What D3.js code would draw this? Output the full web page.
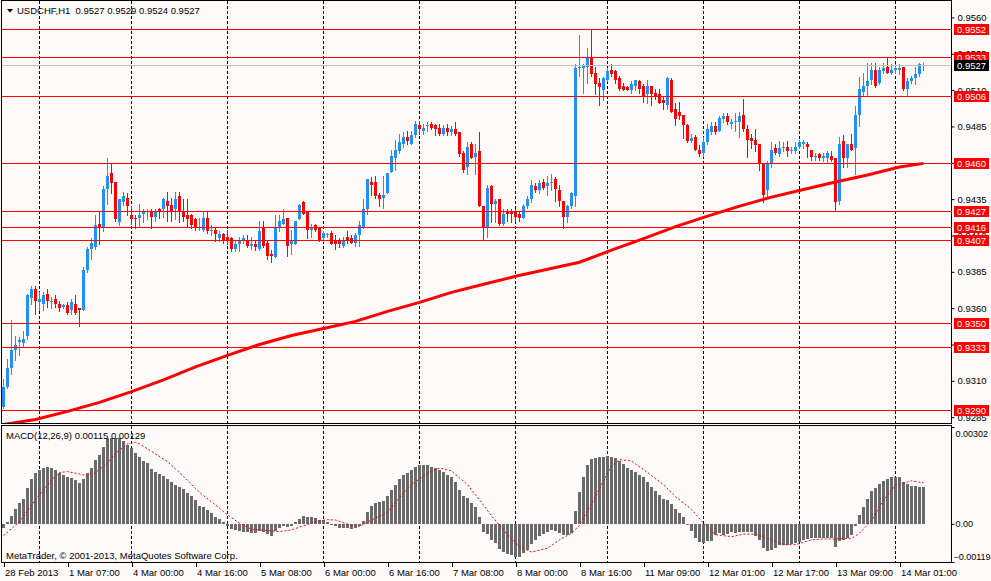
<!DOCTYPE html>
<html>
<head>
<meta charset="utf-8">
<script src="https://cdn.jsdelivr.net/npm/d3@7"></script>
<style>
  html, body { margin: 0; padding: 0; background: #fffafa; }
  svg { display: block; font-family: "Liberation Sans", Arial, sans-serif; font-size: 9.5px; }
  .axis text { font-family: "Liberation Sans", Arial, sans-serif; font-size: 9.5px; fill: #000; }
  .axis line { stroke: #000; }
</style>
</head>
<body>
<svg id="chart" width="991" height="581"></svg>
<script>
// ---- data (USDCHF, H1) ----
var symbolTitle = 'USDCHF,H1  0.9527 0.9529 0.9524 0.9527';
var macdTitle = 'MACD(12,26,9) 0.00115 0.00129';
var copyright = 'MetaTrader, \u00a9 2001-2013, MetaQuotes Software Corp.';

var opens = [
  .9292,.9306,.9319,.9331,.9337,.9336,.9341,.9367,.9373,.9364,
  .9363,.9370,.9364,.9366,.9363,.9361,.9362,.9359,.9363,.9360,
  .9359,.9386,.9401,.9402,.9418,.9416,.9442,.9453,.9447,.9419,
  .9433,.9436,.9424,.9422,.9422,.9425,.9426,.9426,.9423,.9428,
  .9428,.9434,.9431,.9428,.9437,.9427,.9424,.9424,.9421,.9415,
  .9414,.9422,.9413,.9414,.9408,.9411,.9409,.9408,.9401,.9404,
  .9406,.9407,.9403,.9404,.9401,.9415,.9405,.9397,.9395,.9415,
  .9418,.9422,.9404,.9404,.9421,.9433,.9426,.9414,.9417,.9415,
  .9408,.9410,.9412,.9406,.9406,.9403,.9409,.9408,.9405,.9410,
  .9416,.9428,.9447,.9447,.9438,.9436,.9439,.9454,.9463,.9468,
  .9473,.9478,.9473,.9479,.9486,.9482,.9485,.9487,.9486,.9484,
  .9480,.9484,.9481,.9483,.9481,.9467,.9457,.9473,.9464,.9468,
  .9430,.9416,.9444,.9432,.9435,.9418,.9426,.9426,.9426,.9425,
  .9422,.9430,.9435,.9444,.9441,.9447,.9444,.9446,.9449,.9441,
  .9434,.9423,.9430,.9437,.9525,.9525,.9526,.9533,.9522,.9515,
  .9510,.9517,.9524,.9523,.9518,.9513,.9512,.9510,.9513,.9516,
  .9513,.9507,.9513,.9508,.9507,.9503,.9500,.9517,.9497,.9495,
  .9493,.9486,.9475,.9478,.9469,.9467,.9474,.9481,.9485,.9482,
  .9490,.9492,.9487,.9488,.9488,.9493,.9483,.9477,.9476,.9473,
  .9460,.9441,.9460,.9470,.9466,.9470,.9471,.9468,.9468,.9471,
  .9473,.9473,.9469,.9464,.9466,.9463,.9463,.9465,.9463,.9434,
  .9475,.9463,.9473,.9470,.9493,.9509,.9513,.9517,.9524,.9515,
  .9523,.9526,.9522,.9524,.9524,.9526,.9511,.9516,.9518,.9521,
  .9527
];
var highs = [
  .9311,.9325,.9352,.9341,.9340,.9344,.9370,.9375,.9375,.9371,
  .9371,.9373,.9368,.9369,.9365,.9363,.9364,.9366,.9369,.9360,
  .9388,.9402,.9408,.9424,.9426,.9444,.9463,.9460,.9447,.9435,
  .9440,.9439,.9430,.9424,.9432,.9428,.9428,.9428,.9428,.9429,
  .9436,.9440,.9436,.9440,.9440,.9435,.9435,.9425,.9422,.9422,
  .9427,.9426,.9417,.9416,.9413,.9412,.9414,.9409,.9406,.9409,
  .9410,.9410,.9409,.9406,.9420,.9420,.9407,.9400,.9424,.9424,
  .9428,.9422,.9414,.9420,.9432,.9434,.9426,.9418,.9418,.9415,
  .9413,.9412,.9413,.9410,.9408,.9409,.9413,.9410,.9412,.9420,
  .9435,.9449,.9450,.9451,.9439,.9451,.9453,.9469,.9476,.9480,
  .9481,.9482,.9482,.9489,.9489,.9487,.9488,.9488,.9487,.9487,
  .9486,.9487,.9485,.9488,.9481,.9468,.9474,.9474,.9473,.9481,
  .9430,.9445,.9445,.9435,.9435,.9428,.9428,.9428,.9428,.9427,
  .9432,.9437,.9448,.9446,.9448,.9449,.9451,.9452,.9450,.9445,
  .9434,.9431,.9440,.9528,.9548,.9528,.9539,.9552,.9526,.9518,
  .9519,.9525,.9528,.9524,.9520,.9515,.9513,.9516,.9517,.9517,
  .9514,.9517,.9513,.9511,.9511,.9505,.9519,.9518,.9501,.9502,
  .9493,.9487,.9480,.9479,.9472,.9478,.9487,.9488,.9488,.9492,
  .9494,.9494,.9490,.9494,.9495,.9504,.9486,.9480,.9483,.9473,
  .9460,.9461,.9474,.9473,.9475,.9474,.9475,.9471,.9474,.9476,
  .9476,.9474,.9469,.9467,.9467,.9467,.9468,.9468,.9463,.9478,
  .9479,.9473,.9480,.9499,.9519,.9522,.9529,.9529,.9529,.9526,
  .9529,.9533,.9528,.9528,.9528,.9526,.9518,.9520,.9526,.9529,
  .9529
];
var lows = [
  .9291,.9305,.9315,.9324,.9328,.9334,.9339,.9363,.9356,.9359,
  .9359,.9361,.9360,.9361,.9358,.9360,.9356,.9356,.9356,.9348,
  .9359,.9385,.9394,.9401,.9404,.9413,.9432,.9439,.9420,.9417,
  .9431,.9424,.9418,.9415,.9416,.9419,.9421,.9415,.9420,.9422,
  .9423,.9420,.9420,.9421,.9419,.9420,.9416,.9415,.9414,.9414,
  .9413,.9412,.9410,.9406,.9406,.9405,.9404,.9399,.9399,.9399,
  .9405,.9402,.9401,.9400,.9400,.9402,.9394,.9392,.9395,.9413,
  .9418,.9396,.9397,.9404,.9421,.9425,.9408,.9409,.9413,.9406,
  .9406,.9409,.9404,.9401,.9402,.9402,.9405,.9405,.9403,.9403,
  .9415,.9425,.9438,.9436,.9430,.9429,.9439,.9454,.9455,.9467,
  .9471,.9473,.9473,.9478,.9480,.9480,.9482,.9483,.9479,.9479,
  .9479,.9479,.9479,.9479,.9465,.9454,.9452,.9463,.9452,.9430,
  .9407,.9409,.9419,.9419,.9417,.9417,.9420,.9419,.9420,.9420,
  .9422,.9429,.9433,.9440,.9439,.9442,.9438,.9441,.9434,.9430,
  .9415,.9419,.9429,.9430,.9520,.9508,.9515,.9520,.9507,.9500,
  .9503,.9516,.9520,.9515,.9510,.9510,.9510,.9508,.9510,.9508,
  .9502,.9501,.9500,.9504,.9501,.9497,.9497,.9495,.9486,.9490,
  .9477,.9474,.9474,.9469,.9465,.9465,.9473,.9480,.9480,.9482,
  .9488,.9487,.9484,.9482,.9478,.9482,.9464,.9470,.9468,.9455,
  .9433,.9437,.9457,.9466,.9465,.9468,.9465,.9467,.9467,.9470,
  .9470,.9464,.9462,.9462,.9462,.9461,.9460,.9461,.9427,.9432,
  .9457,.9457,.9469,.9452,.9485,.9506,.9506,.9514,.9512,.9514,
  .9522,.9522,.9521,.9522,.9521,.9510,.9506,.9515,.9514,.9520,
  .9524
];
var closes = [
  .9306,.9319,.9331,.9335,.9338,.9339,.9369,.9373,.9365,.9366,
  .9369,.9365,.9365,.9363,.9360,.9362,.9357,.9364,.9357,.9359,
  .9386,.9401,.9405,.9417,.9415,.9442,.9451,.9446,.9421,.9435,
  .9437,.9430,.9421,.9421,.9424,.9426,.9427,.9423,.9427,.9426,
  .9435,.9430,.9427,.9435,.9426,.9423,.9421,.9417,.9415,.9416,
  .9422,.9413,.9414,.9411,.9411,.9407,.9406,.9401,.9404,.9406,
  .9408,.9403,.9404,.9402,.9413,.9403,.9396,.9396,.9415,.9420,
  .9421,.9403,.9406,.9420,.9431,.9425,.9414,.9416,.9414,.9407,
  .9412,.9411,.9404,.9404,.9404,.9407,.9407,.9405,.9410,.9417,
  .9428,.9449,.9445,.9437,.9435,.9438,.9453,.9465,.9469,.9474,
  .9478,.9475,.9479,.9487,.9483,.9484,.9486,.9484,.9483,.9480,
  .9484,.9481,.9483,.9480,.9466,.9455,.9471,.9463,.9467,.9430,
  .9415,.9443,.9432,.9434,.9418,.9425,.9425,.9425,.9423,.9422,
  .9430,.9435,.9445,.9441,.9446,.9443,.9446,.9447,.9442,.9434,
  .9423,.9430,.9439,.9525,.9526,.9527,.9533,.9521,.9514,.9512,
  .9518,.9523,.9521,.9517,.9511,.9510,.9510,.9514,.9517,.9511,
  .9506,.9513,.9507,.9506,.9501,.9501,.9518,.9495,.9490,.9492,
  .9486,.9475,.9477,.9469,.9466,.9474,.9483,.9485,.9481,.9491,
  .9492,.9488,.9488,.9489,.9492,.9483,.9476,.9475,.9472,.9460,
  .9438,.9460,.9469,.9467,.9470,.9471,.9468,.9469,.9471,.9474,
  .9474,.9471,.9464,.9465,.9463,.9465,.9467,.9462,.9433,.9473,
  .9463,.9473,.9469,.9493,.9511,.9513,.9516,.9524,.9513,.9524,
  .9525,.9522,.9524,.9525,.9525,.9511,.9516,.9518,.9521,.9528,
  .9527
];

// moving average, read at every 8th bar
var maBars = [0,8,16,24,32,40,48,56,64,72,80,88,96,104,112,120,128,136,144,152,160,168,176,184,192,200,208,216,224,230];
var maValues = [0.9280,0.92834,0.92890,0.92952,0.93026,0.93106,0.93196,0.93275,0.93350,0.93412,
  0.93460,0.93509,0.93578,0.93640,0.93709,0.93764,0.93819,0.93868,0.93916,0.93999,
  0.94078,0.94161,0.94233,0.94302,0.94364,0.94416,0.94468,0.94516,0.94571,0.94596];

// MACD main (histogram), one per bar
var macdMain = [
  -0.00014,0.00007,0.00025,0.00046,0.00065,0.00077,0.00111,0.00139,0.00158,0.00167,
  0.00174,0.00177,0.00174,0.00168,0.00160,0.00153,0.00146,0.00142,0.00137,0.00126,
  0.00139,0.00160,0.00174,0.00199,0.00215,0.00241,0.00267,0.00267,0.00267,0.00267,
  0.00259,0.00247,0.00236,0.00222,0.00207,0.00195,0.00189,0.00170,0.00163,0.00156,
  0.00149,0.00139,0.00132,0.00122,0.00116,0.00108,0.00096,0.00086,0.00075,0.00056,
  0.00052,0.00042,0.00034,0.00021,0.00015,0.00007,-0.00006,-0.00016,-0.00019,-0.00021,
  -0.00027,-0.00027,-0.00029,-0.00029,-0.00021,-0.00027,-0.00031,-0.00039,-0.00021,-0.00014,
  -0.00008,-0.00010,-0.00008,0.00007,0.00015,0.00023,0.00021,0.00021,0.00017,0.00013,
  0.00011,0.00007,-0.00003,-0.00008,-0.00014,-0.00014,-0.00014,-0.00015,-0.00014,-0.00008,
  0.00009,0.00038,0.00057,0.00065,0.00067,0.00072,0.00088,0.00106,0.00122,0.00140,
  0.00153,0.00160,0.00168,0.00178,0.00182,0.00182,0.00182,0.00176,0.00174,0.00168,
  0.00161,0.00153,0.00145,0.00132,0.00106,0.00086,0.00080,0.00065,0.00054,0.00020,
  -0.00024,-0.00032,-0.00050,-0.00060,-0.00078,-0.00088,-0.00095,-0.00098,-0.00102,-0.00102,
  -0.00091,-0.00081,-0.00064,-0.00050,-0.00039,-0.00032,-0.00024,-0.00019,-0.00022,-0.00029,
  -0.00036,-0.00035,-0.00029,0.00041,0.00098,0.00145,0.00182,0.00203,0.00205,0.00207,
  0.00210,0.00213,0.00210,0.00205,0.00197,0.00186,0.00174,0.00168,0.00161,0.00153,
  0.00145,0.00132,0.00115,0.00101,0.00090,0.00078,0.00075,0.00061,0.00046,0.00034,
  0.00020,-0.00003,-0.00022,-0.00043,-0.00056,-0.00060,-0.00053,-0.00053,-0.00035,-0.00029,
  -0.00035,-0.00032,-0.00026,-0.00029,-0.00024,-0.00026,-0.00024,-0.00026,-0.00039,-0.00050,
  -0.00076,-0.00085,-0.00081,-0.00076,-0.00066,-0.00067,-0.00066,-0.00064,-0.00060,-0.00056,
  -0.00050,-0.00046,-0.00045,-0.00045,-0.00043,-0.00043,-0.00043,-0.00045,-0.00071,-0.00053,
  -0.00050,-0.00045,-0.00036,-0.00008,0.00028,0.00054,0.00078,0.00103,0.00113,0.00124,
  0.00134,0.00140,0.00145,0.00145,0.00145,0.00132,0.00124,0.00119,0.00117,0.00116,
  0.00115
];

// MACD signal, read at selected bars
var signalBars = [0,4,8,12,14,16,18,21,23,26,28,31,33,34,37,41,45,49,53,56,59,62,66,69,72,75,78,81,83,86,89,
  92,96,99,102,106,109,112,116,119,122,126,129,132,136,139,142,144,146,148,150,152,154,157,161,165,168,172,175,178,
  182,185,188,192,195,198,202,205,208,212,214,217,220,223,227,229,230];
var signalValues = [-0.00037,0.00007,0.00075,0.00137,0.00160,0.00163,0.00158,0.00150,0.00160,0.00189,0.00220,0.00249,
  0.00254,0.00249,0.00226,0.00194,0.00148,0.00098,0.00059,0.00028,0.00002,-0.00017,-0.00021,-0.00024,-0.00019,-0.00006,
  0.00007,0.00013,0.00012,-0.00001,-0.00008,0.00012,0.00036,0.00082,0.00122,0.00158,0.00174,0.00165,0.00122,0.00075,
  0.00025,-0.00034,-0.00071,-0.00088,-0.00076,-0.00050,-0.00029,-0.00005,0.00041,0.00085,0.00135,0.00180,0.00200,
  0.00196,0.00160,0.00122,0.00085,0.00045,0.00002,-0.00034,-0.00040,-0.00032,-0.00032,-0.00050,-0.00065,-0.00065,
  -0.00050,-0.00047,-0.00047,-0.00045,-0.00029,0.00010,0.00075,0.00120,0.00134,0.00130,0.00129];

// horizontal lines and the current bid
var levels = [0.9552, 0.9533, 0.9506, 0.9460, 0.9427, 0.9416, 0.9407, 0.9350, 0.9333, 0.9290];
var bid = 0.9527;

// axes
var priceRange = [0.9281, 0.9572];
var priceTicks = [0.9560, 0.9535, 0.9510, 0.9485, 0.9460, 0.9435, 0.9410, 0.9385, 0.9360, 0.9335, 0.9310, 0.9285];
var macdRange = [-0.00119, 0.00302];
var macdTicks = [0.00302, 0, -0.00119];
var dayStartBars = [9, 32, 56, 80, 104, 128, 151, 175, 199, 223];
var timeTickBars = [0, 16, 32, 48, 64, 80, 96, 112, 128, 144, 160, 176, 192, 208, 224];
var timeTickLabels = ['28 Feb 2013', '1 Mar 07:00', '4 Mar 00:00', '4 Mar 16:00', '5 Mar 08:00', '6 Mar 00:00',
  '6 Mar 16:00', '7 Mar 08:00', '8 Mar 00:00', '8 Mar 16:00', '11 Mar 09:00', '12 Mar 01:00', '12 Mar 17:00',
  '13 Mar 09:00', '14 Mar 01:00'];

// ---- layout ----
var svg = d3.select('#chart');
var plotLeft = 2, plotRight = 951;
var mainTop = 0, mainBottom = 423;
var macdTop = 426, macdBottom = 562;
var bull = '#1e90ff', bear = '#ff0000';

var x = d3.scaleLinear().domain([0, closes.length - 1]).range([3.5, 3.5 + 4 * (closes.length - 1)]);
var y = d3.scaleLinear().domain(priceRange).range([mainBottom, mainTop]);
var yM = d3.scaleLinear().domain(macdRange).range([macdBottom, macdTop + 1]);

function crisp(v) { return Math.round(v) + 0.5; }

svg.append('rect').attr('width', 991).attr('height', 581).attr('fill', '#fffafa');

var defs = svg.append('defs');
defs.append('clipPath').attr('id', 'clipMain').append('rect')
    .attr('x', plotLeft).attr('y', mainTop).attr('width', plotRight - plotLeft).attr('height', mainBottom - mainTop);
defs.append('clipPath').attr('id', 'clipMacd').append('rect')
    .attr('x', plotLeft).attr('y', macdTop).attr('width', plotRight - plotLeft).attr('height', macdBottom - macdTop);

// day separators through both windows
svg.append('g').attr('class', 'grid')
    .selectAll('line')
    .data(dayStartBars)
    .enter()
    .append('line')
    .attr('x1', d => x(d)).attr('x2', d => x(d))
    .attr('y1', mainTop + 1).attr('y2', macdBottom)
    .attr('stroke', '#000')
    .attr('stroke-dasharray', '3,2')
    .attr('shape-rendering', 'crispEdges');

var main = svg.append('g').attr('clip-path', 'url(#clipMain)');

// candles
var candles = main.append('g').attr('class', 'candles')
    .selectAll('g')
    .data(closes.map((c, i) => ({i: i, o: opens[i], h: highs[i], l: lows[i], c: c})))
    .enter()
    .append('g')
    .attr('shape-rendering', 'crispEdges');

candles.append('line')
    .attr('x1', d => x(d.i)).attr('x2', d => x(d.i))
    .attr('y1', d => Math.round(y(d.h))).attr('y2', d => Math.round(y(d.l)) + 1)
    .attr('stroke', d => d.c >= d.o ? bull : bear);

candles.append('rect')
    .attr('x', d => x(d.i) - 1.5)
    .attr('width', 3)
    .attr('y', d => Math.round(y(Math.max(d.o, d.c))))
    .attr('height', d => Math.max(1, Math.round(y(Math.min(d.o, d.c))) - Math.round(y(Math.max(d.o, d.c)))))
    .attr('fill', d => d.c >= d.o ? bull : bear);

// moving average
var maLine = d3.line()
    .x(d => x(d[0]))
    .y(d => y(d[1]));
main.append('path')
    .attr('d', maLine(maBars.map((b, i) => [b, maValues[i]])))
    .attr('fill', 'none')
    .attr('stroke', '#ff0000')
    .attr('stroke-width', 3);

// bid line and horizontal levels
main.append('line')
    .attr('x1', plotLeft).attr('x2', plotRight)
    .attr('y1', crisp(y(bid))).attr('y2', crisp(y(bid)))
    .attr('stroke', '#c0c0c0');

main.append('g').attr('class', 'levels')
    .selectAll('line')
    .data(levels)
    .enter()
    .append('line')
    .attr('x1', plotLeft).attr('x2', plotRight)
    .attr('y1', d => crisp(y(d))).attr('y2', d => crisp(y(d)))
    .attr('stroke', '#ff0000');

// MACD window
var macd = svg.append('g').attr('clip-path', 'url(#clipMacd)');

macd.append('g').attr('class', 'histogram')
    .selectAll('rect')
    .data(macdMain)
    .enter()
    .append('rect')
    .attr('x', (d, i) => x(i) - 1.5)
    .attr('width', 3)
    .attr('y', d => Math.round(yM(Math.max(d, 0))))
    .attr('height', d => Math.max(1, Math.abs(Math.round(yM(d)) - Math.round(yM(0)))))
    .attr('fill', '#6a6a6a')
    .attr('shape-rendering', 'crispEdges');

var sigLine = d3.line()
    .x(d => x(d[0]))
    .y(d => yM(d[1]));
macd.append('path')
    .attr('d', sigLine(signalBars.map((b, i) => [b, signalValues[i]])))
    .attr('fill', 'none')
    .attr('stroke', '#ff0000')
    .attr('stroke-width', 1)
    .attr('stroke-dasharray', '2,2');

// window borders
var borders = svg.append('g').attr('fill', 'none').attr('stroke', '#000').attr('shape-rendering', 'crispEdges');
borders.append('rect').attr('x', 1.5).attr('y', 0.5).attr('width', plotRight - 1.5).attr('height', mainBottom);
borders.append('rect').attr('x', 1.5).attr('y', macdTop - 0.5).attr('width', plotRight - 1.5).attr('height', macdBottom - macdTop + 1);

// price axis
var yAxis = d3.axisRight(y)
    .tickValues(priceTicks)
    .tickSize(3)
    .tickPadding(3)
    .tickFormat(d3.format('.4f'));
var gy = svg.append('g').attr('class', 'axis')
    .attr('transform', 'translate(' + (plotRight + 0.5) + ',0)')
    .call(yAxis);
gy.attr('font-size', null).attr('font-family', null);
gy.select('.domain').remove();

// macd axis
var mAxis = d3.axisRight(yM)
    .tickValues(macdTicks)
    .tickSize(3)
    .tickPadding(3)
    .tickFormat(d => d === 0 ? '0.00' : d3.format('.5f')(d));
var gm = svg.append('g').attr('class', 'axis')
    .attr('transform', 'translate(' + (plotRight + 0.5) + ',0)')
    .call(mAxis);
gm.attr('font-size', null).attr('font-family', null);
gm.select('.domain').remove();
gm.selectAll('.tick text')
    .style('font-size', '9px')
    .attr('y', d => d > 0 ? 7 : (d < 0 ? -5 : 0))
    .attr('x', d => d < 0 ? 2 : 4);

// time axis
var xAxis = d3.axisBottom(x)
    .tickValues(timeTickBars)
    .tickSize(4)
    .tickPadding(3)
    .tickFormat((d, i) => timeTickLabels[i]);
var gx = svg.append('g').attr('class', 'axis')
    .attr('transform', 'translate(0,' + (macdBottom + 0.5) + ')')
    .call(xAxis);
gx.attr('font-size', null).attr('font-family', null);
gx.select('.domain').remove();
gx.selectAll('.tick text').attr('text-anchor', 'start').attr('x', 1);
gx.selectAll('.tick line').attr('shape-rendering', 'crispEdges');

// level price boxes
var tags = svg.append('g').attr('class', 'tags')
    .selectAll('g')
    .data(levels.map(v => ({v: v, fill: '#ff0000'})).concat([{v: bid, fill: '#000000'}]))
    .enter()
    .append('g')
    .attr('transform', d => 'translate(954,' + Math.round(y(d.v)) + ')');
tags.append('rect')
    .attr('x', 0).attr('y', -5).attr('width', 35).attr('height', 11)
    .attr('fill', d => d.fill);
tags.append('text')
    .attr('x', 3).attr('y', 4)
    .attr('fill', '#fff')
    .text(d => d3.format('.4f')(d.v));

// titles
svg.append('path').attr('d', 'M7,9 L13,9 L10,12.5 Z').attr('fill', '#000');
svg.append('text').attr('x', 17).attr('y', 14).style('white-space', 'pre').text(symbolTitle);
svg.append('text').attr('x', 6).attr('y', 439).text(macdTitle);
svg.append('text').attr('x', 6).attr('y', 559).text(copyright);
</script>
</body>
</html>
